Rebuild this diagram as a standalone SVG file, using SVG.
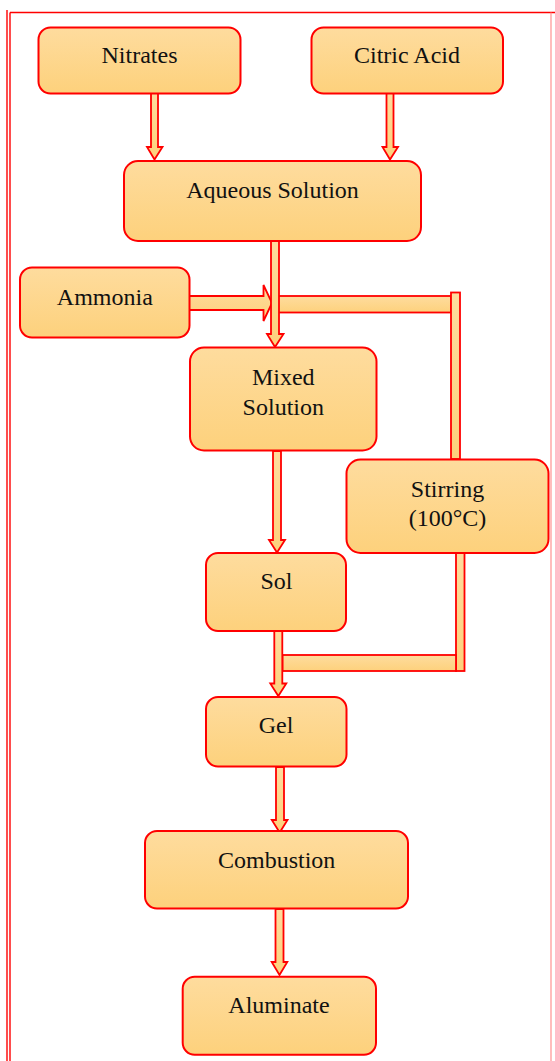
<svg xmlns="http://www.w3.org/2000/svg" width="555" height="1061" viewBox="0 0 555 1061">
<defs>
<linearGradient id="g" x1="0" y1="0" x2="0" y2="1">
<stop offset="0" stop-color="#FEDC9E"/>
<stop offset="1" stop-color="#FDD17C"/>
</linearGradient>
<style>
.n{fill:url(#g);stroke:#FF0000;stroke-width:2}
.a{fill:url(#g);stroke:#FF0000;stroke-width:1.8;stroke-linejoin:miter}
.t{font-family:"Liberation Serif","Times New Roman",serif;font-size:24px;fill:#111;text-anchor:middle}
.b{stroke:#FF0000;stroke-width:1.4;fill:none}
</style>
</defs>
<rect width="555" height="1061" fill="#fff"/>
<g id="frame">
<line class="b" x1="7" y1="10" x2="7" y2="1061"/>
<line class="b" x1="10" y1="12.5" x2="10" y2="1061"/>
<line class="b" x1="10" y1="12.5" x2="555" y2="12.5"/>
<line x1="551" y1="12.5" x2="551" y2="1061" stroke="#FF9090" stroke-width="1.2"/>
</g>
<g id="connectors">
<polygon class="a" points="151,93 158,93 158,147 162.5,147 154.5,159.5 147,147 151,147"/>
<polygon class="a" points="386.5,93 393.5,93 393.5,147 398,147 390,159.5 382.5,147 386.5,147"/>
<rect class="a" x="278" y="296" width="173" height="16.5"/>
<rect class="a" x="451" y="292.5" width="9" height="166.5"/>
<polygon class="a" points="189,296 263.5,296 263.5,285 272,303 263.5,321 263.5,310 189,310"/>
<polygon class="a" points="271,239 279,239 279,334 283.5,334 275,347 267,334 271,334"/>
<polygon class="a" points="273,451 281,451 281,540 285,540 277,552.5 269,540 273,540"/>
<rect class="a" x="456" y="553" width="8.5" height="118"/>
<rect class="a" x="282.5" y="655" width="173.5" height="16"/>
<polygon class="a" points="274.3,631 282.3,631 282.3,683.5 286.3,683.5 278.3,696 270.3,683.5 274.3,683.5"/>
<polygon class="a" points="276,767 284,767 284,820 287.5,820 279.7,832.5 271.8,820 276,820"/>
<polygon class="a" points="275.5,909 283.5,909 283.5,962 287.3,962 279.5,975 271.7,962 275.5,962"/>
</g>
<g id="nitrates">
<rect class="n" x="38.5" y="27.5" width="202" height="66" rx="12"/>
<text class="t" x="139.5" y="63.3">Nitrates</text>
</g>
<g id="citric-acid">
<rect class="n" x="311.5" y="27.5" width="191.5" height="66" rx="12"/>
<text class="t" x="407" y="63.3">Citric Acid</text>
</g>
<g id="aqueous-solution">
<rect class="n" x="124" y="161" width="297" height="80" rx="14"/>
<text class="t" x="272.5" y="198.3">Aqueous Solution</text>
</g>
<g id="ammonia">
<rect class="n" x="20" y="267.5" width="169.5" height="70" rx="12"/>
<text class="t" x="104.8" y="305">Ammonia</text>
</g>
<g id="mixed-solution">
<rect class="n" x="190" y="347.5" width="186.5" height="103" rx="14"/>
<text class="t" x="283.3" y="385">Mixed</text>
<text class="t" x="283.3" y="415">Solution</text>
</g>
<g id="stirring">
<rect class="n" x="346.5" y="459.5" width="202" height="93.5" rx="14"/>
<text class="t" x="447.5" y="496.7">Stirring</text>
<text class="t" x="447.5" y="526">(100°C)</text>
</g>
<g id="sol">
<rect class="n" x="206" y="553" width="140" height="78" rx="12"/>
<text class="t" x="276.5" y="589.3">Sol</text>
</g>
<g id="gel">
<rect class="n" x="206" y="697" width="140.5" height="69.5" rx="12"/>
<text class="t" x="276" y="733.3">Gel</text>
</g>
<g id="combustion">
<rect class="n" x="145" y="831" width="263" height="77.5" rx="12"/>
<text class="t" x="276.7" y="867.7">Combustion</text>
</g>
<g id="aluminate">
<rect class="n" x="182.7" y="976.7" width="193.3" height="78" rx="12"/>
<text class="t" x="279" y="1013.3">Aluminate</text>
</g>
</svg>
